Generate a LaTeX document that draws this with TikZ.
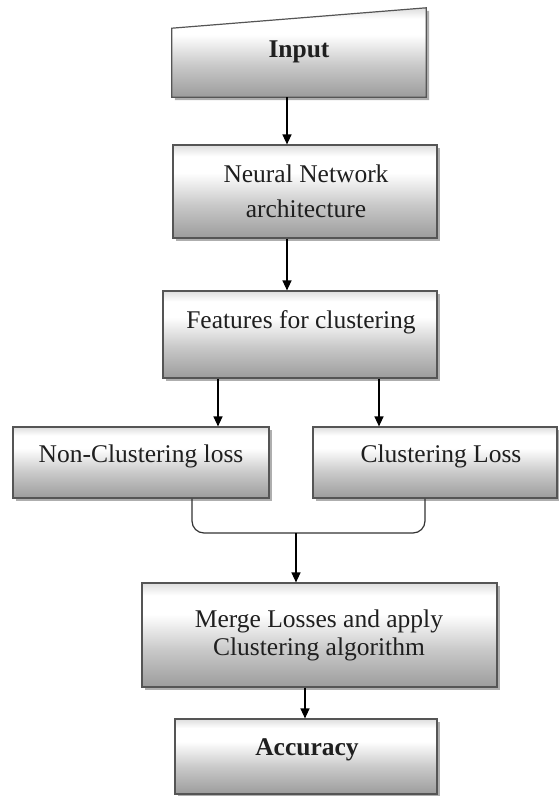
\documentclass[tikz,border=0pt]{standalone}
\usepackage{fontspec}
\setmainfont{Liberation Serif}
\usetikzlibrary{arrows.meta,shadows}
\definecolor{shA}{HTML}{9C9C9C}
\definecolor{shB}{HTML}{C9C9C9}
\definecolor{shC}{HTML}{DDDDDD}
\definecolor{edge}{HTML}{555555}
\pgfdeclareverticalshading{boxsh}{100bp}{color(0bp)=(shA); color(25bp)=(shA); color(43bp)=(shB); color(60bp)=(white); color(69bp)=(white); color(75bp)=(shC); color(100bp)=(shC)}
\tikzset{
  boxsty/.style={draw=edge, line width=1.2pt, shading=boxsh,
    drop shadow={shadow xshift=3pt, shadow yshift=-3pt, opacity=0.45, fill=black!70}},
  box/.style={boxsty, inner sep=0pt},
  lbl/.style={font=\fontsize{25.5}{30}\selectfont, text=black!88, inner sep=0pt},
  arr/.style={line width=1.3pt, -{Triangle[width=9pt,length=10pt]}},
  brk/.style={line width=1.2pt, draw=black!80, rounded corners=12pt}
}
\begin{document}
\begin{tikzpicture}[x=1pt,y=-1pt]
\useasboundingbox[fill=white] (0,0) rectangle (558,796);
% Input (manual input shape)
\node[inner sep=0pt, minimum width=254pt, minimum height=89pt] (input) at (299,52.5) {};
\path[boxsty] ([yshift=69pt]input.south west) -- (input.north east) -- (input.south east) -- (input.south west) -- cycle;
\node[lbl, anchor=base, font=\fontsize{25.5}{30}\selectfont\bfseries] (inputT) at (299,57) {Input};
% boxes
\node[box, minimum width=264pt, minimum height=93pt] (nn) at (305,191.5) {};
\node[lbl, align=center, font=\fontsize{25.5}{35}\selectfont] (nnT) at (306,191.3) {Neural Network\\architecture};
\node[box, minimum width=274pt, minimum height=87pt] (feat) at (300,334.5) {};
\node[lbl, anchor=base] (featT) at (301,328) {Features for clustering};
\node[box, minimum width=256pt, minimum height=71pt] (nc) at (141,462.5) {};
\node[lbl, anchor=base] (ncT) at (141,462) {Non-Clustering loss};
\node[box, minimum width=244pt, minimum height=71pt] (cl) at (435,462.5) {};
\node[lbl, anchor=base] (clT) at (441,462) {Clustering Loss};
\node[box, minimum width=355pt, minimum height=104pt] (merge) at (319.5,635) {};
\node[lbl, align=center, font=\fontsize{25.5}{28}\selectfont] (mergeT) at (319,635) {Merge Losses and apply\\Clustering algorithm};
\node[box, minimum width=262pt, minimum height=75pt] (acc) at (306,756.5) {};
\node[lbl, anchor=base, font=\fontsize{25.5}{30}\selectfont\bfseries] (accT) at (307,755) {Accuracy};
% connectors
\draw[arr] ([xshift=-12pt]input.south) coordinate (a0) -- (a0 |- nn.north);
\draw[arr] ([xshift=-18pt]nn.south) coordinate (a1) -- (a1 |- feat.north);
\draw[arr] ([xshift=-82pt]feat.south) coordinate (a2) -- (a2 |- nc.north);
\draw[arr] ([xshift=79pt]feat.south) coordinate (a3) -- (a3 |- cl.north);
\coordinate (bl) at ([xshift=51pt]nc.south);
\coordinate (br) at ([xshift=-10pt]cl.south);
\coordinate (bm) at (296,533);
\draw[brk] (bl) -- (bl |- bm) -- (br |- bm) -- (br);
\draw[arr] (bm) -- (bm |- merge.north);
\draw[arr] ([xshift=-14.5pt]merge.south) coordinate (a4) -- (a4 |- acc.north);
\end{tikzpicture}
\end{document}
